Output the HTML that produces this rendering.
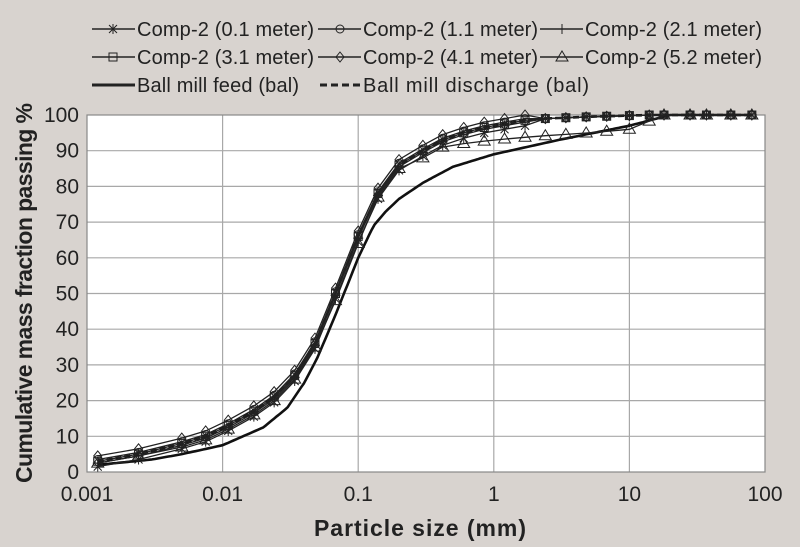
<!DOCTYPE html>
<html><head><meta charset="utf-8"><style>
body{margin:0;background:#d8d3cf;}
svg{display:block;font-family:"Liberation Sans",sans-serif;}
</style></head><body>
<svg id="s" width="800" height="547" xmlns="http://www.w3.org/2000/svg">
<rect width="800" height="547" fill="#d8d3cf"/>
<rect x="87" y="115" width="678" height="357" fill="#fff"/>
<g id="grid" stroke="#a8a8a8" stroke-width="1.2"></g>
<rect x="87" y="115" width="678" height="357" fill="none" stroke="#888" stroke-width="1.2"/>
<g id="series"></g>
<g font-size="21" fill="#222" id="ticks"></g>
<text x="420" y="536" font-size="23" font-weight="bold" text-anchor="middle" fill="#222" textLength="212">Particle size (mm)</text>
<text transform="translate(32,293) rotate(-90)" font-size="23" font-weight="bold" text-anchor="middle" fill="#222" textLength="380">Cumulative mass fraction passing %</text>
<g font-size="20" fill="#222" stroke="#222">
 <line x1="92" y1="29" x2="135" y2="29" stroke-width="1.5"/><text x="137" y="36" stroke="none" textLength="177">Comp-2 (0.1 meter)</text>
 <line x1="318" y1="29" x2="361" y2="29" stroke-width="1.5"/><text x="363" y="36" stroke="none" textLength="175">Comp-2 (1.1 meter)</text>
 <line x1="540" y1="29" x2="583" y2="29" stroke-width="1.5"/><text x="585" y="36" stroke="none" textLength="177">Comp-2 (2.1 meter)</text>
 <line x1="92" y1="57" x2="135" y2="57" stroke-width="1.5"/><text x="137" y="64" stroke="none" textLength="177">Comp-2 (3.1 meter)</text>
 <line x1="318" y1="57" x2="361" y2="57" stroke-width="1.5"/><text x="363" y="64" stroke="none" textLength="175">Comp-2 (4.1 meter)</text>
 <line x1="540" y1="57" x2="583" y2="57" stroke-width="1.5"/><text x="585" y="64" stroke="none" textLength="177">Comp-2 (5.2 meter)</text>
 <line x1="92" y1="85" x2="135" y2="85" stroke-width="3"/><text x="137" y="92" stroke="none" textLength="162">Ball mill feed (bal)</text>
 <line x1="320" y1="85" x2="361" y2="85" stroke-width="3" stroke-dasharray="7,4"/><text x="363" y="92" stroke="none" textLength="226">Ball mill discharge (bal)</text>
 <g id="legm" fill="none" stroke-width="1"></g>
</g>
</svg>
<script>
const NS="http://www.w3.org/2000/svg";
const X=v=>87+(Math.log10(v)+3)*135.6, Y=v=>472-v*3.57;
function el(t,a,p){const e=document.createElementNS(NS,t);for(const k in a)e.setAttribute(k,a[k]);(p||document.getElementById('series')).appendChild(e);return e;}
const g=document.getElementById('grid'),tk=document.getElementById('ticks');
for(let i=0;i<=10;i++){const y=Y(i*10);if(i>0&&i<10)el('line',{x1:87,x2:765,y1:y,y2:y},g);const t=el('text',{x:79,y:y+7,'text-anchor':'end'},tk);t.textContent=i*10;}
['0.001','0.01','0.1','1','10','100'].forEach((s,i)=>{const x=87+i*135.6;if(i>0&&i<5)el('line',{x1:x,x2:x,y1:115,y2:472},g);const t=el('text',{x:x,y:501,'text-anchor':'middle'},tk);t.textContent=s;});
function interp(pts,x){const lx=Math.log10(x);for(let i=0;i<pts.length-1;i++){const a=Math.log10(pts[i][0]),b=Math.log10(pts[i+1][0]);if(lx<=b){return pts[i][1]+(pts[i+1][1]-pts[i][1])*(lx-a)/(b-a);}}return pts[pts.length-1][1];}
const dis=[[0.0012,3],[0.0024,5],[0.005,8],[0.0075,10],[0.011,13],[0.017,17],[0.024,21],[0.034,27],[0.048,36],[0.068,50],[0.1,66],[0.14,78],[0.2,86],[0.3,90],[0.42,93],[0.6,95],[0.85,96.5],[1.2,97.5],[1.7,98.5],[2.4,99],[5,99.5],[14,100],[80,100]];
const feed=[[0.0012,2],[0.003,3.5],[0.005,5],[0.01,7.5],[0.02,12.5],[0.03,18],[0.04,25],[0.05,32],[0.068,44],[0.1,60],[0.13,69],[0.16,73],[0.2,76.5],[0.3,81],[0.5,85.5],[1,89],[3,93],[10,97],[20,100],[80,100]];
const xs=[0.0012,0.0024,0.005,0.0075,0.011,0.017,0.024,0.034,0.048,0.068,0.1,0.14,0.2,0.3,0.42,0.6,0.85,1.2,1.7,2.4,3.4,4.8,6.8,10,14,18,28,37,56,80];
function path(pts,f){let d='';for(let lx=-2.92;lx<=1.91;lx+=0.02){const x=Math.pow(10,lx);d+=(d?'L':'M')+X(x).toFixed(1)+','+Y(f(x)).toFixed(1);}return d;}
el('path',{d:path(feed,x=>interp(feed,x)),fill:'none',stroke:'#111','stroke-width':2.6,'stroke-linejoin':'round'});
el('path',{d:path(dis,x=>interp(dis,x)),fill:'none',stroke:'#111','stroke-width':2.6,'stroke-dasharray':'6,3'});
const tri=[[0.0012,2.5],[0.0024,4.5],[0.005,7],[0.0075,9],[0.011,12],[0.017,16],[0.024,20],[0.034,26],[0.048,35],[0.068,48],[0.1,64],[0.14,77],[0.2,85],[0.3,88],[0.42,91],[0.6,92],[1,93],[2,94],[5,95],[10,96],[18,100],[80,100]];
const offs=[[0,'s'],[0.5,'c'],[-0.5,'p'],[-1.5,'q'],[1.5,'d']];
function mark(type,x,y,p){p=p||document.getElementById('series');
 if(type==='s')el('rect',{x:x-4,y:y-4,width:8,height:8,fill:'none',stroke:'#222'},p);
 else if(type==='c')el('circle',{cx:x,cy:y,r:4,fill:'none',stroke:'#222'},p);
 else if(type==='d')el('path',{d:`M${x},${y-5}L${x+4},${y}L${x},${y+5}L${x-4},${y}Z`,fill:'none',stroke:'#222'},p);
 else if(type==='t')el('path',{d:`M${x},${y-6}L${x+6},${y+4}L${x-6},${y+4}Z`,fill:'none',stroke:'#222'},p);
 else if(type==='q')el('path',{d:`M${x-4},${y-4}L${x+4},${y+4}M${x+4},${y-4}L${x-4},${y+4}M${x},${y-5}V${y+5}`,stroke:'#222'},p);
 else el('path',{d:`M${x-5},${y}H${x+5}M${x},${y-5}V${y+5}`,stroke:'#222'},p);}
offs.forEach(([o,t])=>{const f=x=>Math.min(100,interp(dis,x)+o*(interp(dis,x)<99?1:0));
 el('path',{d:'M'+xs.map(x=>X(x).toFixed(1)+','+Y(f(x)).toFixed(1)).join('L'),fill:'none',stroke:'#222','stroke-width':1.3});
 xs.forEach(x=>mark(t,X(x),Y(f(x))));});
el('path',{d:'M'+xs.map(x=>X(x).toFixed(1)+','+Y(interp(tri,x)).toFixed(1)).join('L'),fill:'none',stroke:'#222','stroke-width':1.3});
xs.forEach(x=>mark('t',X(x),Y(interp(tri,x))));
const lm=document.getElementById('legm');
mark('q',113,29,lm);mark('c',340,29,lm);mark('p',562,29,lm);mark('s',113,57,lm);mark('d',340,57,lm);mark('t',562,57,lm);
</script>
</body></html>
